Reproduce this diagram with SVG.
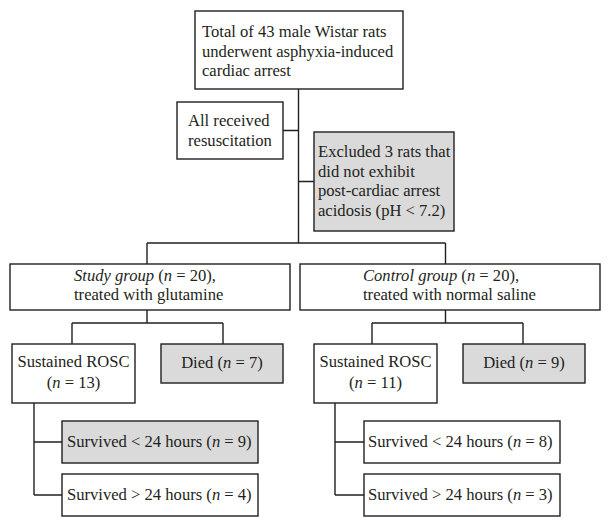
<svg xmlns="http://www.w3.org/2000/svg" width="611" height="523" viewBox="0 0 611 523">
<style>
.b{fill:#ffffff;stroke:#231f20;stroke-width:1.4}
.g{fill:#dadada;stroke:#231f20;stroke-width:1.4}
.c{fill:none;stroke:#231f20;stroke-width:1.4}
text{font-family:"Liberation Serif","Times New Roman",serif;font-size:16.6px;fill:#231f20}
.m{text-anchor:middle}
.i{font-style:italic}
</style>
<rect width="611" height="523" fill="#ffffff"/>
<g id="connectors">
<path class="c" d="M298.5,89 V243 M283,130.5 H298.5 M298.5,181.5 H314 M147,243 H445.5 M147,243 V264 M445.5,243 V264"/>
<path class="c" d="M147,310 V323 M72,323 H223 M72,323 V344 M223,323 V344"/>
<path class="c" d="M445.5,310 V323 M372,323 H523 M372,323 V344 M523,323 V344"/>
<path class="c" d="M34,403 V495 M34,442 H62 M34,495 H62"/>
<path class="c" d="M335,403 V495 M335,442 H364 M335,495 H364"/>
</g>
<g id="n_total">
<rect class="b" x="195" y="11" width="208" height="78"/>
<text x="202" y="37">Total of 43 male Wistar rats</text>
<text x="202" y="56.5">underwent asphyxia-induced</text>
<text x="202" y="76">cardiac arrest</text>
</g>
<g id="n_resus">
<rect class="b" x="177" y="102" width="106" height="57"/>
<text x="188" y="125.5">All received</text>
<text x="188" y="145.5">resuscitation</text>
</g>
<g id="n_excluded">
<rect class="g" x="314" y="132" width="140" height="99"/>
<text x="318" y="157">Excluded 3 rats that</text>
<text x="318" y="176.5">did not exhibit</text>
<text x="318" y="196">post-cardiac arrest</text>
<text x="318" y="215.5">acidosis (pH &lt; 7.2)</text>
</g>
<g id="n_study">
<rect class="b" x="10" y="264" width="280" height="46"/>
<text x="74" y="281"><tspan class="i">Study group</tspan> (<tspan class="i">n</tspan> = 20),</text>
<text x="74" y="300">treated with glutamine</text>
</g>
<g id="n_control">
<rect class="b" x="300" y="264" width="300" height="46"/>
<text x="363" y="281"><tspan class="i">Control group</tspan> (<tspan class="i">n</tspan> = 20),</text>
<text x="363" y="300">treated with normal saline</text>
</g>
<g id="n_rosc_study">
<rect class="b" x="12" y="344" width="123" height="59"/>
<text class="m" x="73.5" y="367">Sustained ROSC</text>
<text class="m" x="73.5" y="388">(<tspan class="i">n</tspan> = 13)</text>
</g>
<g id="n_died_study">
<rect class="g" x="161" y="344" width="122" height="39"/>
<text class="m" x="222" y="368">Died (<tspan class="i">n</tspan> = 7)</text>
</g>
<g id="n_rosc_control">
<rect class="b" x="314" y="344" width="123" height="59"/>
<text class="m" x="375.5" y="367">Sustained ROSC</text>
<text class="m" x="375.5" y="388">(<tspan class="i">n</tspan> = 11)</text>
</g>
<g id="n_died_control">
<rect class="g" x="463" y="344" width="122" height="39"/>
<text class="m" x="524" y="368">Died (<tspan class="i">n</tspan> = 9)</text>
</g>
<g id="n_lt24_study">
<rect class="g" x="62" y="421" width="196" height="42"/>
<text x="67" y="447">Survived &lt; 24 hours (<tspan class="i">n</tspan> = 9)</text>
</g>
<g id="n_gt24_study">
<rect class="b" x="62" y="474" width="196" height="42"/>
<text x="67" y="500">Survived &gt; 24 hours (<tspan class="i">n</tspan> = 4)</text>
</g>
<g id="n_lt24_control">
<rect class="b" x="364" y="421" width="196" height="42"/>
<text x="368" y="447">Survived &lt; 24 hours (<tspan class="i">n</tspan> = 8)</text>
</g>
<g id="n_gt24_control">
<rect class="b" x="364" y="474" width="196" height="42"/>
<text x="368" y="500">Survived &gt; 24 hours (<tspan class="i">n</tspan> = 3)</text>
</g>
</svg>
